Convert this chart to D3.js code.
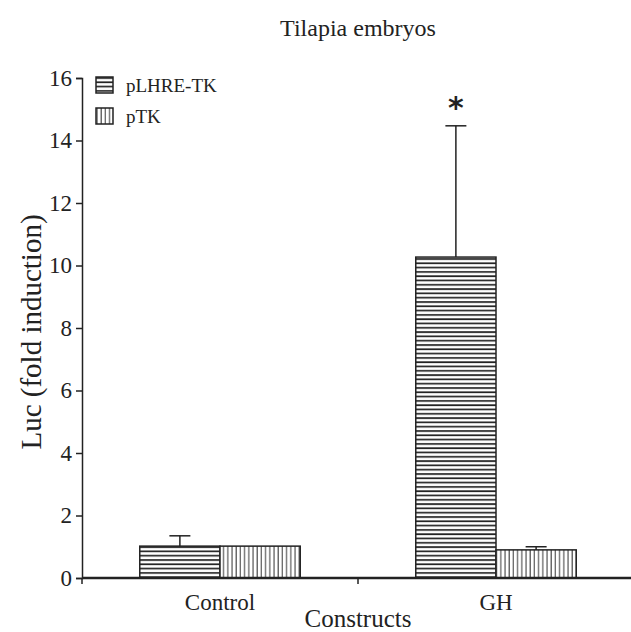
<!DOCTYPE html>
<meta charset="utf-8">
<style>
body {
  margin: 0;
  background: #fff;
  font-family: "Liberation Serif", "Times New Roman", serif;
}
text {
  fill: #222;
}
.axis path, .axis line {
  stroke: #222;
}
</style>
<body>
<script src="https://cdn.jsdelivr.net/npm/d3@7"></script>
<script>

var width = 631,
    height = 632;

var categories = ["Control", "GH"];
var series = ["pLHRE-TK", "pTK"];
var means = {
  "pLHRE-TK": [1.02, 10.27],
  "pTK": [1.02, 0.9]
};
var errors = {
  "pLHRE-TK": [0.33, 4.2],
  "pTK": [0, 0.1]
};
var yTicks = [0, 2, 4, 6, 8, 10, 12, 14, 16];

var margin = {top: 78, right: 0, bottom: 54, left: 82};

var svg = d3.select("body").append("svg")
    .attr("width", width)
    .attr("height", height);

var defs = svg.append("defs");

// horizontal stripes
var ph = defs.append("pattern")
    .attr("id", "hstripe")
    .attr("patternUnits", "userSpaceOnUse")
    .attr("width", 8)
    .attr("height", 4.3);
ph.append("rect").attr("width", 8).attr("height", 4.3).attr("fill", "#fff");
ph.append("line").attr("x1", 0).attr("x2", 8).attr("y1", 1).attr("y2", 1)
    .attr("stroke", "#222").attr("stroke-width", 1.7);

// vertical stripes
var pv = defs.append("pattern")
    .attr("id", "vstripe")
    .attr("patternUnits", "userSpaceOnUse")
    .attr("width", 4.2)
    .attr("height", 8);
pv.append("rect").attr("width", 4.2).attr("height", 8).attr("fill", "#fff");
pv.append("line").attr("x1", 1).attr("x2", 1).attr("y1", 0).attr("y2", 8)
    .attr("stroke", "#444").attr("stroke-width", 1.1);

var fills = {"pLHRE-TK": "url(#hstripe)", "pTK": "url(#vstripe)"};

var x0 = d3.scaleBand()
    .domain(categories)
    .range([margin.left, margin.left + 2 * 276])
    .paddingInner(0)
    .paddingOuter(0);

var x1 = d3.scaleBand()
    .domain(series)
    .range([0, x0.bandwidth()])
    .paddingOuter(0.72)
    .paddingInner(0);

var y = d3.scaleLinear()
    .domain([0, 16])
    .range([height - margin.bottom, margin.top]);

var g = svg.append("g");

// bars
series.forEach(function(s) {
  var rows = categories.map(function(c, i) {
    return {cat: c, v: means[s][i], e: errors[s][i]};
  });

  g.selectAll(".bar-" + s)
      .data(rows)
    .enter().append("rect")
      .attr("x", function(d) { return x0(d.cat) + x1(s); })
      .attr("y", function(d) { return y(d.v); })
      .attr("width", x1.bandwidth())
      .attr("height", function(d) { return y(0) - y(d.v); })
      .attr("fill", fills[s])
      .attr("stroke", "#222")
      .attr("stroke-width", 1.5);

  var eb = g.selectAll(".err-" + s)
      .data(rows.filter(function(d) { return d.e > 0; }))
    .enter().append("g");

  eb.append("line")
      .attr("x1", function(d) { return x0(d.cat) + x1(s) + x1.bandwidth() / 2; })
      .attr("x2", function(d) { return x0(d.cat) + x1(s) + x1.bandwidth() / 2; })
      .attr("y1", function(d) { return y(d.v); })
      .attr("y2", function(d) { return y(d.v + d.e); })
      .attr("stroke", "#222")
      .attr("stroke-width", 1.5);

  eb.append("line")
      .attr("x1", function(d) { return x0(d.cat) + x1(s) + x1.bandwidth() / 2 - 10.5; })
      .attr("x2", function(d) { return x0(d.cat) + x1(s) + x1.bandwidth() / 2 + 10.5; })
      .attr("y1", function(d) { return y(d.v + d.e); })
      .attr("y2", function(d) { return y(d.v + d.e); })
      .attr("stroke", "#222")
      .attr("stroke-width", 1.5);
});

// significance mark
g.append("text")
    .attr("x", x0("GH") + x1("pLHRE-TK") + x1.bandwidth() / 2)
    .attr("y", y(errors["pLHRE-TK"][1] + means["pLHRE-TK"][1]) - 8)
    .attr("text-anchor", "middle")
    .style("font-family", "DejaVu Sans, sans-serif")
    .style("font-weight", "bold")
    .style("font-size", "30px")
    .text("*");

// y axis
var yAxis = svg.append("g")
    .attr("class", "axis")
    .attr("transform", "translate(" + margin.left + ",0)")
    .call(d3.axisLeft(y).tickValues(yTicks).tickSize(6).tickPadding(4));
yAxis.select(".domain").attr("stroke-width", 1.5);
yAxis.selectAll("line").attr("stroke-width", 1.5);
yAxis.selectAll("text")
    .style("font-family", "Liberation Serif, serif")
    .style("font-size", "23px");

// x axis
var xAxisG = svg.append("g")
    .attr("class", "axis")
    .attr("transform", "translate(0," + y(0) + ")");
xAxisG.append("line")
    .attr("x1", margin.left)
    .attr("x2", width)
    .attr("stroke-width", 2.5);
xAxisG.selectAll(".xt")
    .data(categories.concat(["end"]))
  .enter().append("line")
    .attr("x1", function(d, i) { return margin.left + i * x0.bandwidth(); })
    .attr("x2", function(d, i) { return margin.left + i * x0.bandwidth(); })
    .attr("y1", 0)
    .attr("y2", 6)
    .attr("stroke-width", 1.5);
xAxisG.selectAll(".xl")
    .data(categories)
  .enter().append("text")
    .attr("x", function(d) { return x0(d) + x0.bandwidth() / 2; })
    .attr("y", 32)
    .attr("text-anchor", "middle")
    .style("font-size", "23px")
    .text(function(d) { return d; });

// titles
svg.append("text")
    .attr("x", 358)
    .attr("y", 36)
    .attr("text-anchor", "middle")
    .style("font-size", "24px")
    .text("Tilapia embryos");

svg.append("text")
    .attr("x", 358)
    .attr("y", 627)
    .attr("text-anchor", "middle")
    .style("font-size", "25px")
    .text("Constructs");

svg.append("text")
    .attr("transform", "translate(41," + 332 + ") rotate(-90)")
    .attr("text-anchor", "middle")
    .style("font-size", "29px")
    .text("Luc (fold induction)");

// legend
var legend = svg.append("g").attr("transform", "translate(96,77)");
var li = legend.selectAll(".li")
    .data(series)
  .enter().append("g")
    .attr("transform", function(d, i) { return "translate(0," + i * 31 + ")"; });
li.append("rect")
    .attr("width", 17)
    .attr("height", 16)
    .attr("fill", function(d) { return fills[d]; })
    .attr("stroke", "#222")
    .attr("stroke-width", 1.5);
li.append("text")
    .attr("x", 30)
    .attr("y", 15)
    .style("font-size", "19px")
    .text(function(d) { return d; });

</script>
